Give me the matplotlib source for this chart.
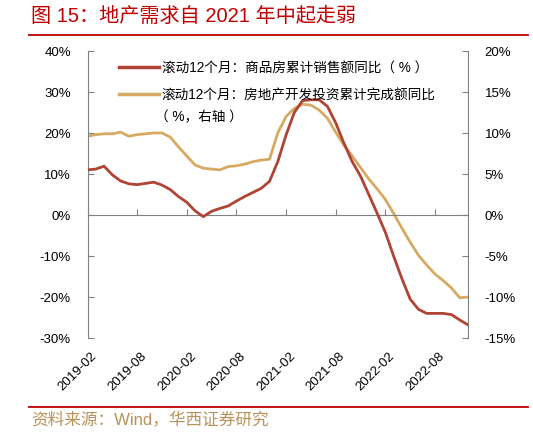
import matplotlib
matplotlib.use('Agg')
import matplotlib.pyplot as plt
from matplotlib.lines import Line2D

plt.rcParams['font.family'] = ['Liberation Sans', 'Noto Sans CJK SC', 'DejaVu Sans']

# monthly, 2019-02 .. 2022-12
months = ['2019-02', '2019-03', '2019-04', '2019-05', '2019-06', '2019-07', '2019-08', '2019-09',
          '2019-10', '2019-11', '2019-12', '2020-01', '2020-02', '2020-03', '2020-04', '2020-05',
          '2020-06', '2020-07', '2020-08', '2020-09', '2020-10', '2020-11', '2020-12', '2021-01',
          '2021-02', '2021-03', '2021-04', '2021-05', '2021-06', '2021-07', '2021-08', '2021-09',
          '2021-10', '2021-11', '2021-12', '2022-01', '2022-02', '2022-03', '2022-04', '2022-05',
          '2022-06', '2022-07', '2022-08', '2022-09', '2022-10', '2022-11', '2022-12']
sales = [11.0, 11.2, 11.9, 9.8, 8.3, 7.6, 7.4, 7.7, 8.0, 7.3, 6.2, 4.5, 3.1, 1.0, -0.4, 0.9,
         1.6, 2.2, 3.4, 4.5, 5.5, 6.5, 8.2, 13.0, 19.5, 25.0, 27.9, 28.1, 28.1, 26.5, 22.5, 17.5,
         13.0, 9.5, 5.0, 0.5, -4.2, -10.0, -15.5, -20.5, -23.0, -24.0, -24.0, -24.0, -24.3, -25.6, -26.8]
invest = [9.6, 9.8, 9.9, 9.9, 10.1, 9.6, 9.8, 9.9, 10.0, 10.0, 9.5, 8.3, 7.2, 6.1, 5.7, 5.6,
          5.5, 5.9, 6.0, 6.2, 6.5, 6.7, 6.8, 10.0, 12.0, 13.0, 13.5, 13.4, 12.8, 11.8, 10.1, 8.5,
          7.2, 5.8, 4.4, 3.2, 1.9, 0.2, -1.6, -3.3, -4.9, -6.1, -7.2, -8.0, -8.9, -10.1, -10.0]
left_ticks = [-30, -20, -10, 0, 10, 20, 30, 40]
right_ticks = [-15, -10, -5, 0, 5, 10, 15, 20]

red = '#B04434'
gold = '#D6AA62'
grey = '#808080'
fs = 9.5

fig = plt.figure(figsize=(5.33, 4.35), dpi=100)
ax = fig.add_axes([0.1642, 0.2207, 0.7139, 0.6598])
ax2 = ax.twinx()

x = list(range(len(months)))
ax.plot(x, sales, color=red, lw=2.0, zorder=3, solid_joinstyle='round')
ax2.plot(x, invest, color=gold, lw=2.0, zorder=2, solid_joinstyle='round')
ax.set_zorder(ax2.get_zorder() + 1)
ax.patch.set_visible(False)

ax.set_xlim(0, len(months) - 1)
ax.set_ylim(-30, 40)
ax2.set_ylim(-15, 20)
ax.set_yticks(left_ticks)
ax.set_yticklabels([f'{v}%' for v in left_ticks])
ax2.set_yticks(right_ticks)
ax2.set_yticklabels([f'{v}%' for v in right_ticks])

for a in (ax, ax2):
    for s in a.spines.values():
        s.set_visible(False)
ax.spines['left'].set_visible(True)
ax.spines['left'].set_color(grey)
ax.spines['bottom'].set_visible(True)
ax.spines['bottom'].set_position(('data', 0))
ax.spines['bottom'].set_color(grey)
ax2.spines['right'].set_visible(True)
ax2.spines['right'].set_color(grey)

ax.tick_params(axis='y', direction='in', length=4, color=grey, labelsize=fs, pad=12)
ax2.tick_params(axis='y', direction='in', length=4, color=grey, labelsize=fs, pad=12)
xt = x[::6]
ax.set_xticks(xt)
ax.tick_params(axis='x', direction='in', length=4, color=grey, labelbottom=False)
for i in xt:
    ax.text(i + 0.4, -0.04, months[i], transform=ax.get_xaxis_transform(), rotation=45,
            ha='right', va='top', rotation_mode='anchor', fontsize=fs)

handles = [Line2D([], [], color=red, lw=2.5), Line2D([], [], color=gold, lw=2.5)]
labels = ['滚动12个月：商品房累计销售额同比（ % ）', '滚动12个月：房地产开发投资累计完成额同比']
ax.legend(handles, labels, loc='upper left', bbox_to_anchor=(0.05, 1.01), frameon=False,
          fontsize=9.8, handlelength=2.94, handletextpad=0.22, labelspacing=0.95)
fig.text(0.291, 0.731, '（ %，右轴 ）', fontsize=9.8, ha='left', va='center')

fig.text(0.058, 0.963, '图 15：地产需求自 2021 年中起走弱', color='#C00000', fontsize=14.5,
         ha='left', va='center')
fig.add_artist(Line2D([0.054, 0.99], [0.918, 0.918], color='#C00000', lw=1.3,
                      transform=fig.transFigure))
fig.add_artist(Line2D([0.054, 0.99], [0.062, 0.062], color='#C00000', lw=1.3,
                      transform=fig.transFigure))
fig.text(0.058, 0.035, '资料来源：Wind，华西证券研究', color='#B8925A', fontsize=12,
         ha='left', va='center')

fig.savefig('out.png', dpi=100)
